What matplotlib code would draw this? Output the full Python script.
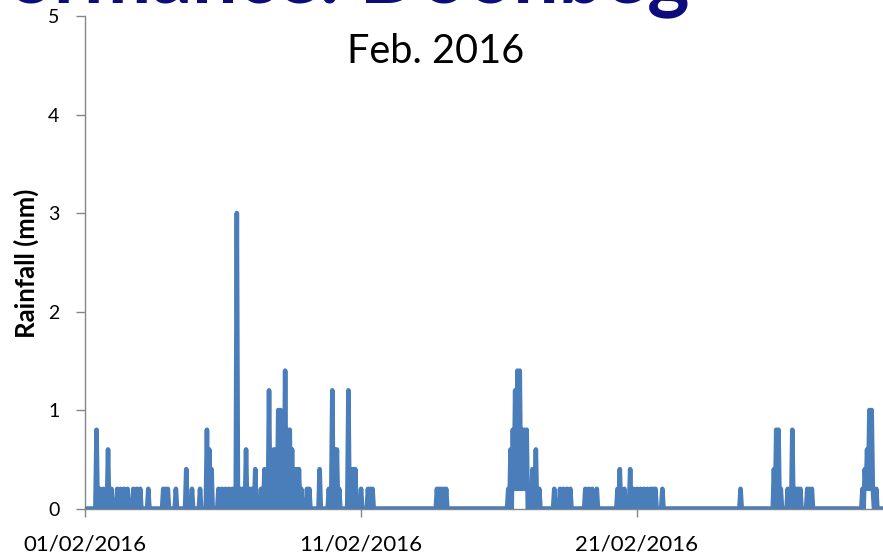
import pandas as pd
import matplotlib.pyplot as plt
import matplotlib.dates as mdates

# Hourly rainfall for February 2016; hours counted from 01/02 00:00.
# Only the wet hours are listed, every other hour is 0 mm.
wet_hour = [10, 13, 16, 20, 23,
            28, 31, 34, 37, 42, 45,
            48, 55, 68, 70,
            72, 79, 88, 93,
            100, 106, 108, 110, 116, 119,
            122, 125, 128, 130, 132, 135, 137, 140, 143,
            145, 148, 153, 156, 160, 162, 164, 166,
            168, 170, 172, 174, 176, 178, 180, 182, 184, 186, 188,
            193, 195, 204, 212, 215,
            217, 219, 221, 229, 231, 233, 235,
            240, 246, 248, 250,
            306, 308, 310, 312, 314,
            368, 370, 372, 373, 374, 375, 376, 377, 378, 379, 380, 381, 382, 383,
            384, 387, 389, 392, 395,
            408, 413, 416, 419, 422,
            435, 438, 441, 445,
            463, 465, 469, 474, 477,
            480, 483, 486, 489, 492, 494, 496, 502,
            570,
            599, 601, 603, 605, 611, 615, 618, 620, 622,
            628, 630, 632,
            676, 678, 679, 680, 681, 682, 683, 684, 685, 688]
wet_mm = [0.8, 0.2, 0.2, 0.6, 0.2,
          0.2, 0.2, 0.2, 0.2, 0.2, 0.2,
          0.2, 0.2, 0.2, 0.2,
          0.2, 0.2, 0.4, 0.2,
          0.2, 0.8, 0.6, 0.4, 0.2, 0.2,
          0.2, 0.2, 0.2, 0.2, 3.0, 0.2, 0.2, 0.6, 0.2,
          0.2, 0.4, 0.2, 0.4, 1.2, 0.4, 0.6, 0.6,
          1.0, 1.0, 0.4, 1.4, 0.8, 0.8, 0.6, 0.4, 0.4, 0.4, 0.2,
          0.2, 0.2, 0.4, 0.2, 1.2,
          0.6, 0.6, 0.2, 1.2, 0.4, 0.4, 0.4,
          0.2, 0.2, 0.2, 0.2,
          0.2, 0.2, 0.2, 0.2, 0.2,
          0.2, 0.6, 0.8, 0.2, 1.2, 0.2, 1.4, 0.2, 1.4, 0.2, 0.8, 0.2, 0.8, 0.2,
          0.8, 0.2, 0.4, 0.6, 0.2,
          0.2, 0.2, 0.2, 0.2, 0.2,
          0.2, 0.2, 0.2, 0.2,
          0.2, 0.4, 0.2, 0.4, 0.2,
          0.2, 0.2, 0.2, 0.2, 0.2, 0.2, 0.2, 0.2,
          0.2,
          0.4, 0.8, 0.8, 0.2, 0.2, 0.8, 0.2, 0.2, 0.2,
          0.2, 0.2, 0.2,
          0.2, 0.4, 0.2, 0.6, 0.2, 1.0, 0.2, 1.0, 0.2, 0.2]

date_ticks = ['2016-02-01', '2016-02-11', '2016-02-21']
y_ticks = [0, 1, 2, 3, 4, 5]

times = pd.date_range('2016-02-01', periods=29 * 24, freq='h')
rain = pd.Series(0.0, index=times)
rain.iloc[wet_hour] = wet_mm

plt.rcParams['font.family'] = ['Lato', 'DejaVu Sans']

fig = plt.figure(figsize=(8.83, 5.59), dpi=100)
ax = fig.add_axes([0.0963, 0.0903, 0.9065, 0.881])

ax.plot(rain.index, rain.values, color='#4a7ebb', lw=3.3,
        solid_joinstyle='round', solid_capstyle='round', zorder=3)

ax.set_xlim(pd.Timestamp('2016-02-01'), pd.Timestamp('2016-03-01'))
ax.set_ylim(0, 5)
ax.set_yticks(y_ticks)
ax.set_xticks(pd.to_datetime(date_ticks))
ax.xaxis.set_major_formatter(mdates.DateFormatter('%d/%m/%Y'))

for side in ['top', 'right']:
    ax.spines[side].set_visible(False)
for side in ['left', 'bottom']:
    ax.spines[side].set_color('#868686')
    ax.spines[side].set_linewidth(1.0)

ax.tick_params(axis='y', length=6.5, width=1, color='#868686',
               pad=12, labelsize=14)
ax.tick_params(axis='x', length=6, width=1, color='#868686',
               pad=13, labelsize=16)

fig.text(26 / 883, 1 - 263 / 559, 'Rainfall (mm)', rotation=90,
         ha='center', va='center', fontsize=18.5, fontweight='bold')
fig.text(436 / 883, 1 - 63 / 559, 'Feb. 2016', ha='center',
         va='baseline', fontsize=28.5)
fig.text(690 / 883, 1 - 2 / 559, 'Performance: Doonbeg', ha='right',
         va='baseline', fontsize=58, fontweight='bold', color='#0c0c7c')

fig.savefig('out.png', dpi=100)
